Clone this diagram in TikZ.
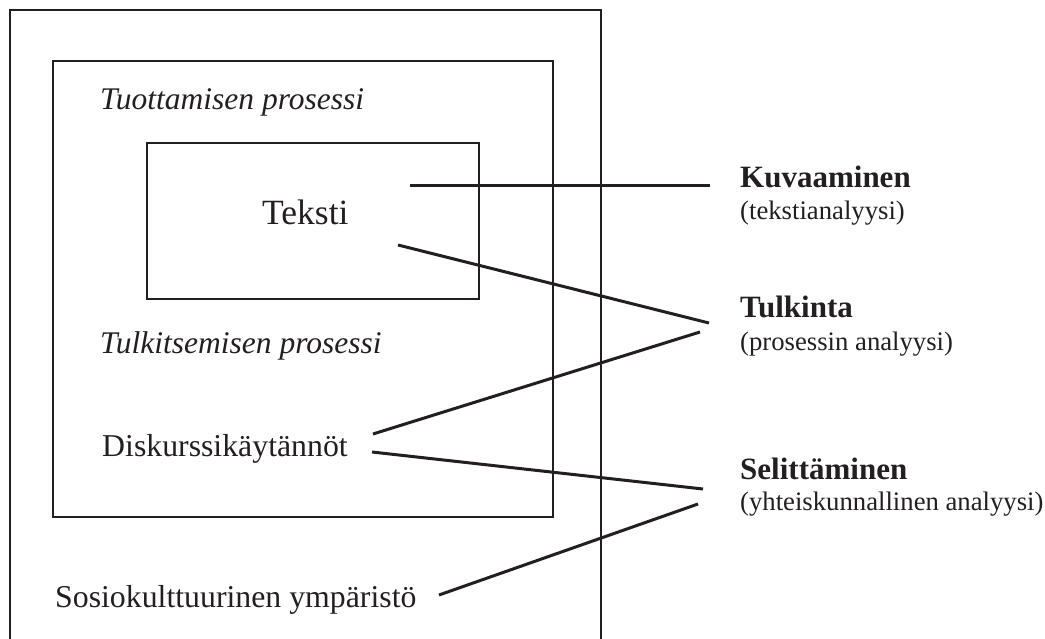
\documentclass[tikz,border=0pt]{standalone}
\usepackage{fontspec}
\setmainfont{Liberation Serif}
\definecolor{ink}{HTML}{231F20}
\begin{document}
\begin{tikzpicture}[x=1pt,y=-1pt,
  boxline/.style={draw=ink,line width=1.8pt},
  conn/.style={draw=ink,line width=3pt},
  lbl/.style={anchor=base west,inner sep=0pt,text=ink},
  reg/.style={lbl,font=\fontsize{31.8}{36}\selectfont},
  ital/.style={lbl,font=\fontsize{31.5}{36}\selectfont\itshape},
  big/.style={lbl,font=\fontsize{35.5}{40}\selectfont},
  head/.style={lbl,font=\fontsize{31}{34}\selectfont\bfseries},
  sub/.style={lbl,font=\fontsize{26.7}{30}\selectfont}]
\useasboundingbox (0,0) rectangle (1045,639);
% boxes
\draw[boxline] (10,639) -- (10,10) -- (601,10) -- (601,639);
\draw[boxline] (53,61) rectangle (553,517);
\draw[boxline] (147,143) rectangle (479,299);
% texts
\node[ital] (tuot) at (100,110) {Tuottamisen prosessi};
\node[big] (teksti) at (262,225) {Teksti};
\node[ital] (tulk) at (100,353) {Tulkitsemisen prosessi};
\node[reg] (disk) at (102,456) {Diskurssikäytännöt};
\node[reg] (sosio) at (55,607) {Sosiokulttuurinen ympäristö};
\node[head] (kuv) at (740,188) {Kuvaaminen};
\node[sub] (kuvs) at (740,220) {(tekstianalyysi)};
\node[head] (tki) at (740,318) {Tulkinta};
\node[sub] (tkis) at (740,350) {(prosessin analyysi)};
\node[head] (sel) at (740,479) {Selittäminen};
\node[sub] (sels) at (740,510) {(yhteiskunnallinen analyysi)};
% connector ends
\coordinate (a1) at (410,186); \coordinate (b1) at (710,186);
\coordinate (a2) at (398,245); \coordinate (b2) at (709,323);
\coordinate (a3) at (373,434); \coordinate (b3) at (700,332);
\coordinate (a4) at (372,452); \coordinate (b4) at (703,489);
\coordinate (a5) at (439,595); \coordinate (b5) at (698,504);
\draw[conn] (a1) -- (b1);
\draw[conn] (a2) -- (b2);
\draw[conn] (a3) -- (b3);
\draw[conn] (a4) -- (b4);
\draw[conn] (a5) -- (b5);
\end{tikzpicture}
\end{document}
